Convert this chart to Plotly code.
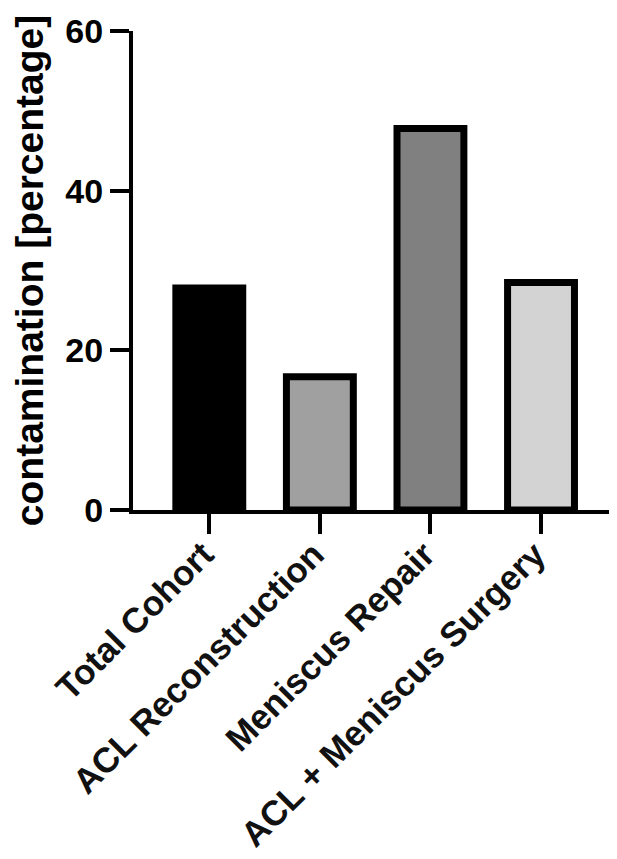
import plotly.graph_objects as go

categories = ["Total Cohort", "ACL Reconstruction", "Meniscus Repair", "ACL + Meniscus Surgery"]
values = [27.8, 16.7, 47.8, 28.5]
fill_colors = ["#000000", "#a0a0a0", "#808080", "#d3d3d3"]
y_ticks = [0, 20, 40, 60]

fig = go.Figure()
fig.add_trace(go.Bar(
    x=list(range(len(categories))),
    y=values,
    width=0.605,
    marker=dict(color=fill_colors, line=dict(color="#000000", width=7)),
))

font_family = "Liberation Sans, Arial, sans-serif"
# page body has an 8px default margin, so the figure is sized/offset to compensate
fig.update_layout(
    width=609, height=851,
    margin=dict(l=125, r=3, t=23, b=349, autoexpand=False),
    paper_bgcolor="white", plot_bgcolor="white",
    showlegend=False,
    xaxis=dict(
        tickmode="array", tickvals=list(range(len(categories))), ticktext=categories,
        range=[-0.69, 3.66], automargin=False,
        showline=True, linecolor="black", linewidth=4,
        ticks="outside", ticklen=20, tickwidth=4, tickcolor="black",
        tickangle=-45, ticklabelstandoff=-14, ticklabelshift=-6,
        tickfont=dict(family=font_family, size=35, color="#111111", weight="bold"),
        showgrid=False, zeroline=False,
    ),
    yaxis=dict(
        range=[0, 60], tickvals=y_ticks, automargin=False,
        showline=True, linecolor="black", linewidth=4,
        ticks="outside", ticklen=19, tickwidth=4, tickcolor="black",
        tickfont=dict(family=font_family, size=34, color="black", weight="bold"),
        title=dict(text="contamination [percentage]", standoff=12,
                   font=dict(family=font_family, size=39, color="black", weight="bold")),
        showgrid=False, zeroline=False,
    ),
)

fig.write_html("out.html")
